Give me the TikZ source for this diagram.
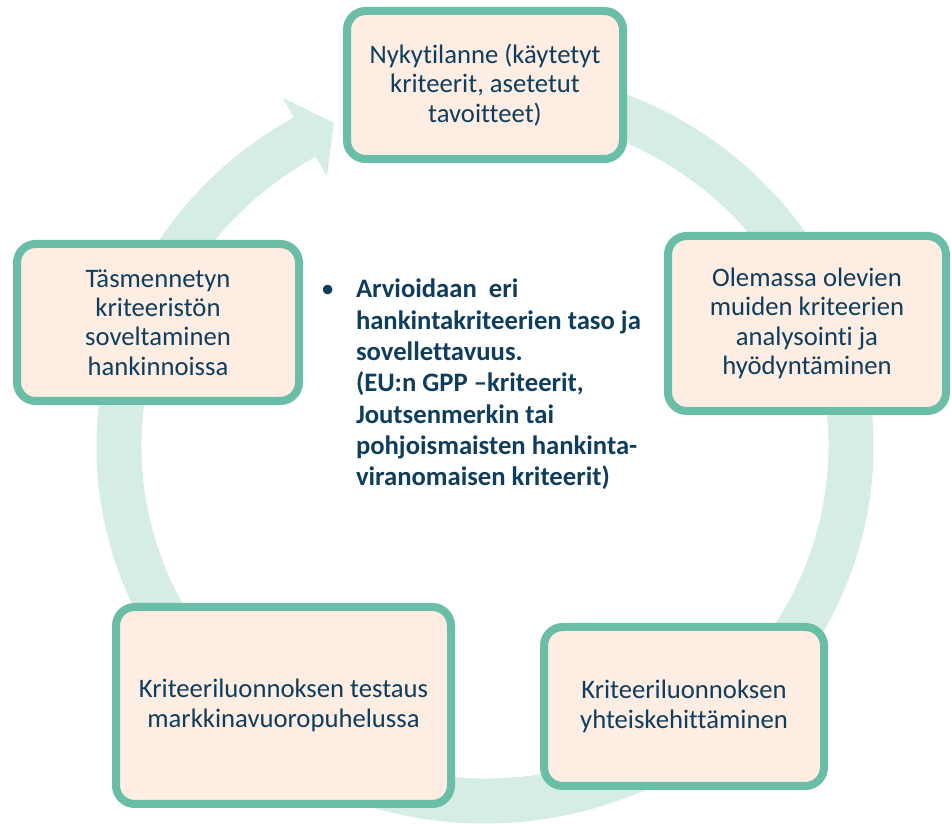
\documentclass[tikz,border=0pt]{standalone}
\usepackage{fontspec}
\setmainfont{Carlito}[Ligatures={TeX,NoCommon}]
\usetikzlibrary{shadows}

\newlength{\du}
\setlength{\du}{0.750000pt}

\definecolor{bandcolor}{rgb}{0.835294, 0.929412, 0.898039}
\definecolor{boxlinecolor}{rgb}{0.415686, 0.741176, 0.650980}
\definecolor{boxfillcolor}{rgb}{0.992157, 0.929412, 0.886275}
\definecolor{cycletextcolor}{rgb}{0.054902, 0.239216, 0.368627}

\tikzset{
  cyclebox/.style={draw=boxlinecolor, fill=boxfillcolor, line width=6pt,
    rounded corners=14pt, align=center, inner sep=0pt, text=cycletextcolor,
    font=\fontsize{20}{22}\selectfont,
    drop shadow={shadow xshift=1.5pt, shadow yshift=-2pt, opacity=0.3, fill=black!70}},
  centertext/.style={anchor=base west, inner sep=0pt, outer sep=0pt, text=cycletextcolor,
    font=\fontsize{20}{23.5}\selectfont\bfseries}
}

\begin{document}
\begin{tikzpicture}
\useasboundingbox (0\du,0\du) rectangle (951\du,824\du);

% circular arrow behind the boxes
\begin{scope}[shift={(485\du,378\du)}]
\fill[bandcolor] (90:{388.5\du} and {377.5\du})
  arc[start angle=90, end angle=-240.5, x radius=388.5\du, y radius=377.5\du]
  -- (-240.5:{411\du} and {400\du})
  -- (-245.6:{366\du} and {355\du})
  -- (-240.5:{321\du} and {310\du})
  -- (-240.5:{343.5\du} and {332.5\du})
  arc[start angle=-240.5, end angle=90, x radius=343.5\du, y radius=332.5\du]
  -- cycle;
\end{scope}

\node[cyclebox, minimum width=276\du, minimum height=148\du] (nykytilanne) at (485\du,739\du)
  {Nykytilanne (käytetyt\\kriteerit, asetetut\\tavoitteet)};
\node[cyclebox, minimum width=278\du, minimum height=175\du] (olemassa) at (807\du,500.5\du)
  {Olemassa olevien\\muiden kriteerien\\analysointi ja\\hyödyntäminen};
\node[cyclebox, minimum width=280\du, minimum height=159\du] (yhteiskehitys) at (684\du,117.5\du)
  {Kriteeriluonnoksen\\yhteiskehittäminen};
\node[cyclebox, minimum width=335\du, minimum height=197\du] (testaus) at (283.5\du,118.5\du)
  {Kriteeriluonnoksen testaus\\markkinavuoropuhelussa};
\node[cyclebox, minimum width=282\du, minimum height=157\du] (soveltaminen) at (158\du,501.5\du)
  {Täsmennetyn\\kriteeristön\\soveltaminen\\hankinnoissa};

\node[centertext] (arviointi) at (321\du,526\du)
  {\begin{tabular}[t]{@{}l@{}l@{}}
   \makebox[35\du][l]{\mdseries\textbullet} &
   \begin{tabular}[t]{@{}l@{}}
   Arvioidaan\ \ eri\\
   hankintakriteerien taso ja\\
   sovellettavuus.\\
   (EU:n GPP –kriteerit,\\
   Joutsenmerkin tai\\
   pohjoismaisten hankinta-\\
   viranomaisen kriteerit)
   \end{tabular}
   \end{tabular}};
\end{tikzpicture}
\end{document}
